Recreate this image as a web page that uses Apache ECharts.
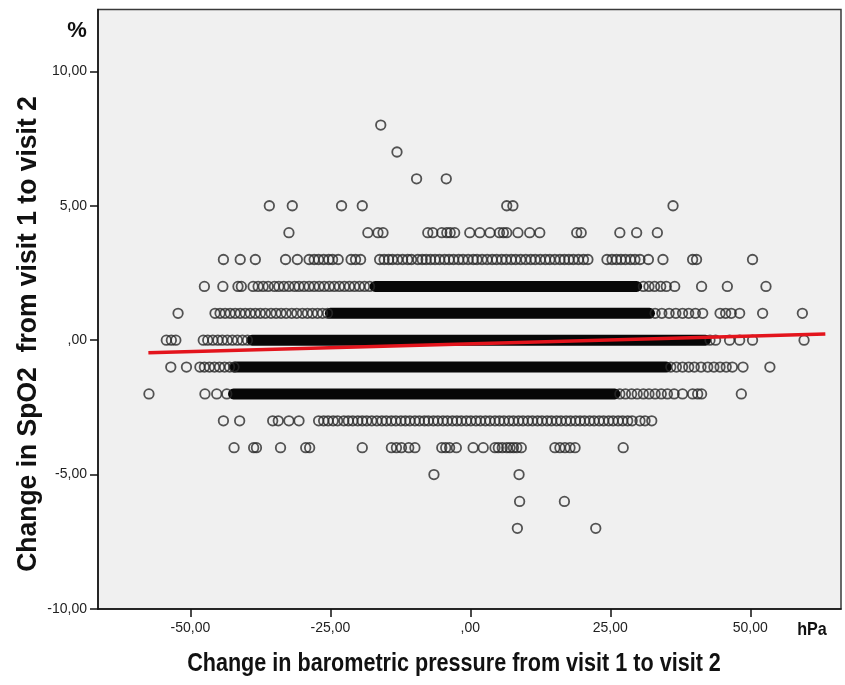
<!DOCTYPE html>
<html>
<head>
<meta charset="utf-8">
<script src="https://cdn.jsdelivr.net/npm/echarts@6/dist/echarts.min.js"></script>
<style>
html,body{margin:0;padding:0;background:#fff;}
#chart{width:845px;height:685px;}
</style>
</head>
<body>
<div id="chart"></div>
<script>
// ---- data ----
const xTicks = [-50, -25, 0, 25, 50];
const yTicks = [-10, -5, 0, 5, 10];

// individual circles per SpO2 change level (x = pressure change, hPa)
const p8 = [-16.0];
const p7 = [-13.1];
const p6 = [-9.6, -4.3];
const p5 = [-35.9, -31.8, -23.0, -19.3, 6.5, 7.6, 36.2];
const p4 = [-32.4, -18.3, -16.5, -15.6, -7.6, -6.7, -5.1, -4.2, -3.6, -2.8, -0.1, 1.7, 3.5, 5.2, 5.9, 6.5, 8.5, 10.6, 12.4, 19.0, 19.8, 26.7, 29.7, 33.4];
const p3 = [-44.1, -41.1, -38.4, -33.0, -30.9, -28.8, -27.9, -27.1, -26.2, -25.3, -24.6, -23.6, -21.3, -20.5, -19.6, -16.2, -15.4, -14.6, -13.9, -13.0, -12.1, -11.2, -10.5, -9.4, -8.6, -7.9, -7.1, -6.3, -5.5, -4.6, -3.8, -3.0, -2.1, -1.3, -0.4, 0.5, 1.2, 2.1, 3.0, 3.9, 4.7, 5.6, 6.4, 7.3, 8.1, 9.0, 9.9, 10.8, 11.6, 12.5, 13.4, 14.2, 15.1, 16.0, 16.8, 17.6, 18.4, 19.3, 20.2, 21.0, 24.4, 25.3, 26.1, 26.9, 27.7, 28.6, 29.4, 30.3, 31.8, 34.4, 39.7, 40.4, 50.4];
const p2 = [-47.5, -44.2, -41.5, -40.9, -38.8, -37.9, -37.0, -36.1, -35.0, -34.2, -33.3, -32.4, -31.4, -30.6, -29.7, -28.8, -27.9, -27.0, -26.1, -25.2, -24.3, -23.4, -22.5, -21.6, -20.7, -19.8, -18.9, -18.0, 30.9, 31.9, 32.9, 34.0, 35.0, 36.5, 41.3, 45.9, 52.8];
const p1 = [-52.2, -45.6, -44.7, -43.8, -42.9, -42.0, -41.1, -40.2, -39.3, -38.4, -37.5, -36.6, -35.6, -34.7, -33.8, -32.9, -31.9, -31.0, -30.0, -29.1, -28.2, -27.3, -26.4, -25.5, 33.0, 34.2, 35.5, 36.7, 37.9, 39.0, 40.2, 41.5, 44.6, 45.6, 46.6, 48.1, 52.2, 59.3];
const p0 = [-54.3, -53.4, -52.6, -47.7, -46.9, -46.0, -45.1, -44.3, -43.4, -42.5, -41.6, -40.7, -39.8, 42.8, 43.8, 46.3, 48.1, 50.4, 59.6];
const pm1 = [-53.5, -50.7, -48.3, -47.5, -46.6, -45.7, -44.8, -43.9, -43.0, -42.2, 35.8, 36.8, 37.9, 39.0, 40.0, 41.2, 42.4, 43.5, 44.6, 45.7, 46.8, 48.7, 53.5];
const pm2 = [-57.4, -47.4, -45.3, -43.5, 26.7, 27.7, 28.8, 29.8, 30.9, 31.9, 33.0, 34.1, 35.2, 36.4, 37.9, 39.7, 40.6, 41.3, 48.4];
const pm3 = [-44.1, -41.2, -35.3, -34.3, -32.4, -30.6, -27.1, -26.2, -25.4, -24.5, -23.7, -22.6, -21.8, -21.0, -20.1, -19.3, -18.5, -17.6, -16.7, -15.8, -15.0, -14.1, -13.3, -12.4, -11.6, -10.8, -9.9, -9.1, -8.2, -7.5, -6.6, -5.8, -4.9, -4.1, -3.2, -2.4, -1.6, -0.7, 0.1, 1.0, 1.8, 2.7, 3.5, 4.4, 5.2, 6.0, 6.9, 7.7, 8.6, 9.4, 10.3, 11.1, 12.0, 12.8, 13.7, 14.5, 15.4, 16.2, 17.1, 17.9, 18.8, 19.6, 20.4, 21.3, 22.1, 23.0, 23.8, 24.7, 25.5, 26.4, 27.2, 28.1, 28.9, 30.3, 31.2, 32.4];
const pm4 = [-42.2, -38.7, -38.2, -33.9, -29.4, -28.7, -19.3, -14.1, -13.2, -12.3, -11.0, -9.9, -5.1, -4.4, -3.7, -2.5, 0.5, 2.3, 4.4, 5.0, 5.7, 6.5, 7.1, 7.7, 8.3, 9.1, 15.1, 16.0, 16.9, 17.8, 18.7, 27.3];
const pm5 = [-6.5, 8.7];
const pm6 = [8.8, 16.8];
const pm7 = [8.4, 22.4];

const levels = [8, 7, 6, 5, 4, 3, 2, 1, 0, -1, -2, -3, -4, -5, -6, -7];
const levelPoints = [p8, p7, p6, p5, p4, p3, p2, p1, p0, pm1, pm2, pm3, pm4, pm5, pm6, pm7];

// solid, fully overplotted stretches of circles
const bandLevels = [2, 1, 0, -1, -2];
const bandFrom = [-17.0, -25.0, -39.0, -42.0, -42.3];
const bandTo = [29.7, 32.0, 42.0, 35.0, 25.8];

// linear fit line
const fitX = [-57.5, 63.4];
const fitY = [-0.47, 0.23];

// ---- build ----
const scatterData = [];
levels.forEach((lv, i) => levelPoints[i].forEach(x => scatterData.push([x, lv])));

const fmt = v => {
  if (v === 0) return ',00';
  return v.toFixed(2).replace('.', ',');
};

const series = [];
bandLevels.forEach((lv, i) => {
  series.push({
    type: 'line', silent: true, symbol: 'none', z: 2,
    data: [[bandFrom[i], lv], [bandTo[i], lv]],
    lineStyle: { color: '#070707', width: 11, cap: 'round' }
  });
});
series.push({
  type: 'scatter', z: 3, silent: true,
  symbol: 'circle', symbolSize: 9.5,
  itemStyle: { color: 'rgba(0,0,0,0)', borderColor: '#2a2a2a', borderWidth: 1.8 },
  data: scatterData
});
series.push({
  type: 'line', z: 5, silent: true, symbol: 'none',
  data: fitX.map((x, i) => [x, fitY[i]]),
  lineStyle: { color: '#e3141c', width: 3.5 }
});

const FONT = 'Liberation Sans, Arial, sans-serif';
const chart = echarts.init(document.getElementById('chart'), null, { renderer: 'canvas' });
chart.setOption({
  animation: false,
  backgroundColor: '#ffffff',
  grid: {
    left: 98, right: 4, top: 9.5, bottom: 76,
    show: true, backgroundColor: '#f0f0f0', borderColor: '#3a3a3a', borderWidth: 1.5
  },
  xAxis: {
    type: 'value', min: -66.5, max: 66.2,
    splitLine: { show: false },
    axisLine: { show: true, onZero: false, lineStyle: { color: '#111', width: 1.5 } },
    axisTick: { show: true, customValues: xTicks, length: 8, lineStyle: { color: '#111', width: 1.5 } },
    axisLabel: { customValues: xTicks, formatter: fmt, fontSize: 14, color: '#222', margin: 12, fontFamily: FONT }
  },
  yAxis: {
    type: 'value', min: -10, max: 12.3,
    splitLine: { show: false },
    axisLine: { show: true, onZero: false, lineStyle: { color: '#111', width: 1.5 } },
    axisTick: { show: true, customValues: yTicks, length: 8, lineStyle: { color: '#111', width: 1.5 } },
    axisLabel: { customValues: yTicks, formatter: fmt, fontSize: 14, color: '#222', margin: 11, fontFamily: FONT }
  },
  graphic: [
    { type: 'text', x: 77, y: 31, style: { text: '%', fontSize: 22, fontWeight: 'bold', fontFamily: FONT, fill: '#111', textAlign: 'center', textVerticalAlign: 'middle' } },
    { type: 'text', x: 812, y: 630, scaleX: 0.85, style: { text: 'hPa', fontSize: 19, fontWeight: 'bold', fontFamily: FONT, fill: '#111', textAlign: 'center', textVerticalAlign: 'middle' } },
    { type: 'text', x: 454, y: 664, scaleX: 0.83, style: { text: 'Change in barometric pressure from visit 1 to visit 2', fontSize: 26, fontWeight: 'bold', fontFamily: FONT, fill: '#111', textAlign: 'center', textVerticalAlign: 'middle' } },
    { type: 'text', x: 28, y: 334, rotation: Math.PI / 2, scaleX: 0.93, style: { text: 'Change in SpO2  from visit 1 to visit 2', fontSize: 28.5, fontWeight: 'bold', fontFamily: FONT, fill: '#111', textAlign: 'center', textVerticalAlign: 'middle' } }
  ],
  series: series
});
</script>
</body>
</html>
